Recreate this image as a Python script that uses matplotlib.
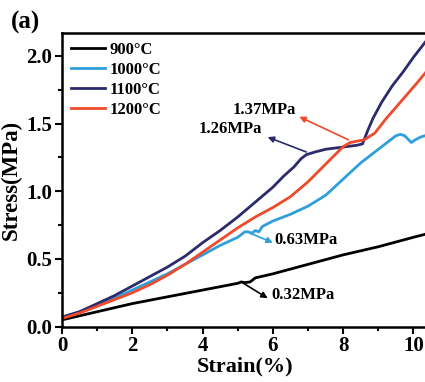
import matplotlib.pyplot as plt
from matplotlib.ticker import MultipleLocator

# strain (%) / stress (MPa)
x900 = [0, 1, 2, 3, 4, 5.0, 5.1, 5.2, 5.35, 5.45, 5.5, 6, 7, 8, 9, 10, 10.45]
y900 = [0.05, 0.11, 0.17, 0.22, 0.27, 0.32, 0.33, 0.325, 0.33, 0.35, 0.36, 0.39, 0.46, 0.53, 0.59, 0.66, 0.69]

x1000 = [0, 0.5, 1, 1.5, 2, 2.5, 3, 3.5, 4, 4.5, 5.0, 5.2, 5.3, 5.4, 5.5, 5.6, 5.7, 6.0,
         6.5, 7, 7.5, 8, 8.5, 9, 9.3, 9.5, 9.63, 9.75, 9.94, 10.05, 10.2, 10.45]
y1000 = [0.07, 0.11, 0.16, 0.21, 0.27, 0.33, 0.39, 0.46, 0.53, 0.60, 0.66, 0.70, 0.70, 0.69, 0.71, 0.70, 0.74, 0.78,
         0.83, 0.89, 0.97, 1.09, 1.21, 1.31, 1.37, 1.41, 1.42, 1.41, 1.36, 1.38, 1.40, 1.42]

x1100 = [0, 0.5, 1, 1.5, 2, 2.5, 3, 3.5, 4, 4.5, 5, 5.5, 6, 6.3, 6.6, 6.8, 6.95, 7.2, 7.5,
         7.8, 8.1, 8.4, 8.55, 8.7, 8.85, 9.1, 9.4, 9.7, 10, 10.45]
y1100 = [0.07, 0.11, 0.17, 0.23, 0.30, 0.37, 0.44, 0.52, 0.62, 0.71, 0.81, 0.92, 1.03, 1.11, 1.18, 1.24, 1.27, 1.29, 1.31,
         1.32, 1.33, 1.34, 1.35, 1.45, 1.54, 1.66, 1.78, 1.88, 1.99, 2.14]

x1200 = [0, 0.5, 1, 1.5, 2, 2.5, 3, 3.5, 4, 4.5, 5, 5.5, 6, 6.5, 7, 7.5, 8, 8.2, 8.4, 8.6,
         8.9, 9.2, 9.5, 9.8, 10.1, 10.45]
y1200 = [0.06, 0.10, 0.15, 0.20, 0.25, 0.31, 0.38, 0.46, 0.55, 0.64, 0.73, 0.81, 0.88, 0.96, 1.07, 1.20, 1.33, 1.36, 1.37, 1.38,
         1.43, 1.53, 1.62, 1.71, 1.80, 1.91]

labels = ["900\u00b0C", "1000\u00b0C", "1100\u00b0C", "1200\u00b0C"]
colors = ["#000000", "#2f9fdc", "#2b2a6b", "#ef4a2b"]

plt.rcParams["font.family"] = ["Liberation Serif", "DejaVu Serif"]
plt.rcParams["font.weight"] = "bold"

fig = plt.figure(figsize=(4.25, 3.82), dpi=100)
ax = fig.add_axes([0.146, 0.145, 0.86, 0.769])

for xs, ys, c, lab in zip([x900, x1000, x1100, x1200], [y900, y1000, y1100, y1200], colors, labels):
    ax.plot(xs, ys, color=c, lw=2, label=lab)

ax.set_xlim(0, 10.4)
ax.set_ylim(0, 2.17)
ax.xaxis.set_major_locator(MultipleLocator(2))
ax.xaxis.set_minor_locator(MultipleLocator(1))
ax.yaxis.set_major_locator(MultipleLocator(0.5))
ax.yaxis.set_minor_locator(MultipleLocator(0.25))
ax.yaxis.set_major_formatter(plt.FormatStrFormatter("%.1f"))
ax.tick_params(which="major", direction="out", length=5, width=1.5, labelsize=15, pad=2)
ax.tick_params(which="minor", direction="out", length=3, width=1.5)
for s in ax.spines.values():
    s.set_linewidth(1.8)

ax.set_xlabel("Strain(%)", fontsize=16, fontweight="bold", labelpad=0)
ax.set_ylabel("Stress(MPa)", fontsize=16.5, fontweight="bold", labelpad=3)

leg = ax.legend(loc="upper left", frameon=False, fontsize=12, handlelength=2.0,
                handletextpad=0.3, labelspacing=0.24, borderaxespad=0.3, borderpad=0.25)

def note(tail, head, color):
    ax.annotate("", xy=head, xytext=tail,
                arrowprops=dict(arrowstyle="-|>", color=color, lw=1.2,
                                mutation_scale=9, shrinkA=0, shrinkB=0))

note((8.15, 1.38), (6.75, 1.55), colors[3])
ax.text(4.85, 1.60, "1.37MPa", fontsize=12, fontweight="bold", va="center")
note((6.95, 1.29), (5.85, 1.40), colors[2])
ax.text(3.9, 1.46, "1.26MPa", fontsize=12, fontweight="bold", va="center")
note((5.35, 0.69), (6.0, 0.62), colors[1])
ax.text(6.05, 0.64, "0.63MPa", fontsize=12, fontweight="bold", va="center")
note((5.1, 0.33), (5.85, 0.21), colors[0])
ax.text(5.95, 0.235, "0.32MPa", fontsize=12, fontweight="bold", va="center")

fig.text(0.026, 0.94, "(a)", fontsize=18, fontweight="bold", va="center")

fig.savefig("out.png", dpi=100)
